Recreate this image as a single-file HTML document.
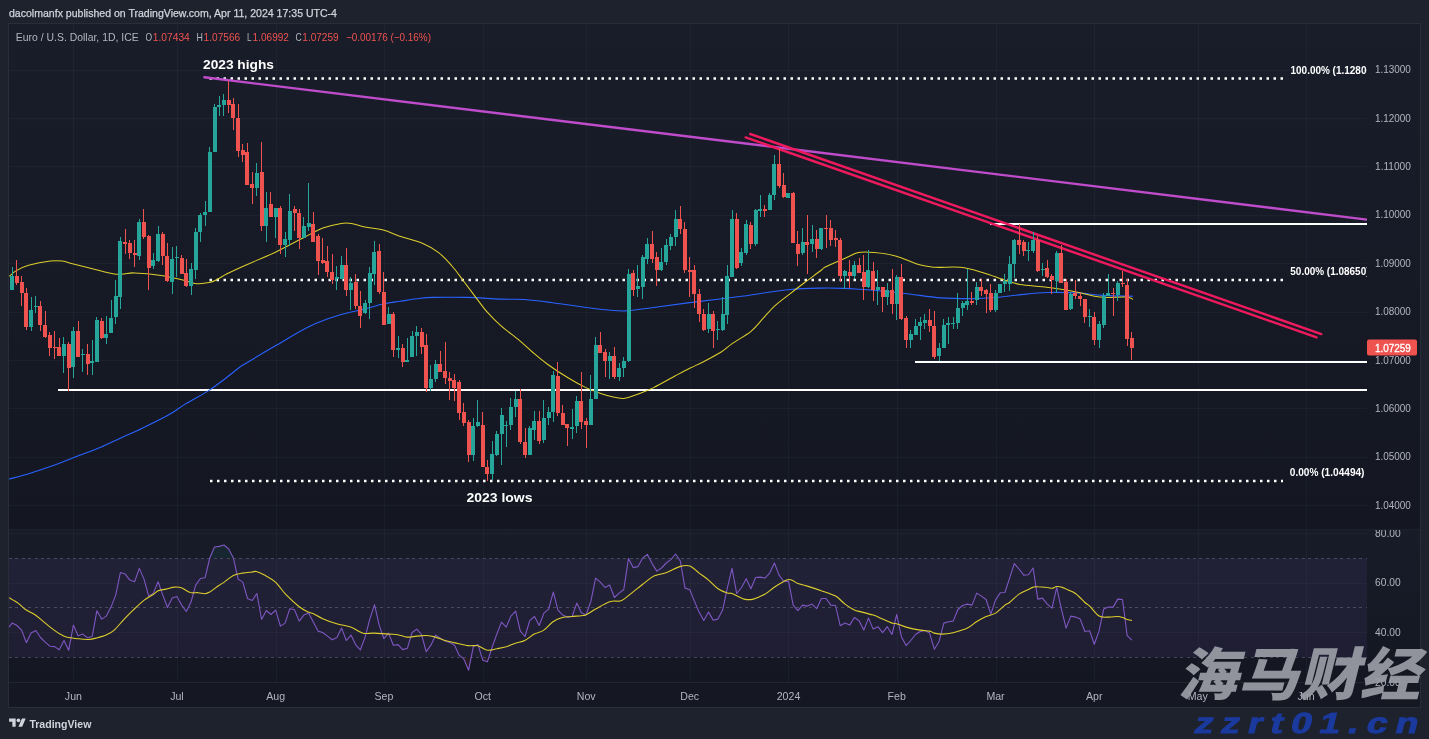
<!DOCTYPE html>
<html lang="en"><head><meta charset="utf-8"><title>EURUSD chart</title>
<style>
html,body{margin:0;padding:0;background:#1e222d;}
body{width:1429px;height:739px;overflow:hidden;position:relative;font-family:"Liberation Sans","Noto Sans CJK SC",sans-serif;}
svg{position:absolute;left:0;top:0;display:block}
text{font-family:"Liberation Sans","Noto Sans CJK SC",sans-serif}
.ax{font-size:10px;fill:#b2b5be}
.tm{font-size:10.6px;fill:#b2b5be;text-anchor:middle}
  .fib{font-size:10.8px;fill:#fff;font-weight:bold}
.lbl{font-size:13.4px;fill:#fff;font-weight:bold}
.g{stroke:#a0a8c8;stroke-opacity:0.05;stroke-width:1;shape-rendering:crispEdges}
</style></head><body>
<svg width="1429" height="739" viewBox="0 0 1429 739">
<rect x="0" y="0" width="1429" height="739" fill="#1e222d"/>
<rect x="8.5" y="23.5" width="1412" height="684" fill="#161a25" stroke="#292d3a" stroke-width="1" shape-rendering="crispEdges"/>
<defs><linearGradient id="g1" x1="0" y1="0" x2="0" y2="1"><stop offset="0" stop-color="#191d29"/><stop offset="1" stop-color="#141722"/></linearGradient><linearGradient id="g2" x1="0" y1="0" x2="0" y2="1"><stop offset="0" stop-color="#181c28"/><stop offset="1" stop-color="#141722"/></linearGradient></defs>
<rect x="9" y="24" width="1411" height="505" fill="url(#g1)"/><rect x="9" y="529" width="1411" height="154" fill="url(#g2)"/><rect x="9" y="683" width="1411" height="24" fill="#151823"/>
<defs><clipPath id="cp"><rect x="9" y="24" width="1358" height="505"/></clipPath><clipPath id="cr"><rect x="9" y="530" width="1358" height="152"/></clipPath><clipPath id="cob"><rect x="9" y="530" width="1358" height="28.4"/></clipPath><clipPath id="cos"><rect x="9" y="657.2" width="1358" height="25"/></clipPath><clipPath id="cax"><rect x="1367" y="530" width="54" height="200"/></clipPath></defs>
<g class="g">
<line x1="9" x2="1367" y1="70.5" y2="70.5"/>
<line x1="9" x2="1367" y1="118.5" y2="118.5"/>
<line x1="9" x2="1367" y1="166.5" y2="166.5"/>
<line x1="9" x2="1367" y1="215.5" y2="215.5"/>
<line x1="9" x2="1367" y1="263.5" y2="263.5"/>
<line x1="9" x2="1367" y1="312.5" y2="312.5"/>
<line x1="9" x2="1367" y1="360.5" y2="360.5"/>
<line x1="9" x2="1367" y1="408.5" y2="408.5"/>
<line x1="9" x2="1367" y1="457.5" y2="457.5"/>
<line x1="9" x2="1367" y1="505.5" y2="505.5"/>
<line x1="9" x2="1367" y1="533.5" y2="533.5"/>
<line x1="9" x2="1367" y1="583.5" y2="583.5"/>
<line x1="9" x2="1367" y1="632.5" y2="632.5"/>
<line x1="73.5" x2="73.5" y1="24" y2="682"/>
<line x1="177.5" x2="177.5" y1="24" y2="682"/>
<line x1="276.5" x2="276.5" y1="24" y2="682"/>
<line x1="384.5" x2="384.5" y1="24" y2="682"/>
<line x1="483.5" x2="483.5" y1="24" y2="682"/>
<line x1="586.5" x2="586.5" y1="24" y2="682"/>
<line x1="690.5" x2="690.5" y1="24" y2="682"/>
<line x1="788.5" x2="788.5" y1="24" y2="682"/>
<line x1="897.5" x2="897.5" y1="24" y2="682"/>
<line x1="996.5" x2="996.5" y1="24" y2="682"/>
<line x1="1094.5" x2="1094.5" y1="24" y2="682"/>
<line x1="1198.5" x2="1198.5" y1="24" y2="682"/>
<line x1="1306.5" x2="1306.5" y1="24" y2="682"/>
</g>
<rect x="9" y="529" width="1411" height="1" fill="#1c202c"/>
<line x1="9" x2="1420" y1="682.5" y2="682.5" stroke="#21252f" stroke-width="1" shape-rendering="crispEdges"/>
<rect x="9" y="558.4" width="1358" height="98.8" fill="#7e57c2" fill-opacity="0.10"/>
<line x1="9" x2="1367" y1="558.5" y2="558.5" stroke="#787b86" stroke-opacity="0.47" stroke-width="1" stroke-dasharray="3 3.4" shape-rendering="crispEdges"/>
<line x1="9" x2="1367" y1="607.5" y2="607.5" stroke="#787b86" stroke-opacity="0.47" stroke-width="1" stroke-dasharray="3 3.4" shape-rendering="crispEdges"/>
<line x1="9" x2="1367" y1="657.5" y2="657.5" stroke="#787b86" stroke-opacity="0.47" stroke-width="1" stroke-dasharray="3 3.4" shape-rendering="crispEdges"/>
<g clip-path="url(#cp)">
<g stroke="#fff" stroke-width="2" shape-rendering="crispEdges">
<line x1="58" x2="1367" y1="390" y2="390"/>
<line x1="915" x2="1367" y1="362" y2="362"/>
<line x1="990" x2="1367" y1="224" y2="224"/>
</g>
<line x1="209.5" x2="1283" y1="78.5" y2="78.5" stroke="#fff" stroke-width="2.5" stroke-dasharray="2.5 4.5"/>
<line x1="209.5" x2="1283" y1="280" y2="280" stroke="#fff" stroke-width="2.5" stroke-dasharray="2.5 4.5"/>
<line x1="210" x2="1283" y1="481" y2="481" stroke="#fff" stroke-width="2.5" stroke-dasharray="2.5 4.5"/>
<line x1="204.4" y1="77.3" x2="1367" y2="219.6" stroke="#bf4ccb" stroke-width="2.4" stroke-linecap="round"/>
<line x1="750.2" y1="134" x2="1321.3" y2="334.1" stroke="#ee1a5e" stroke-width="2.4" stroke-linecap="round"/>
<line x1="745.6" y1="137.4" x2="1316.6" y2="337.4" stroke="#ee1a5e" stroke-width="2.4" stroke-linecap="round"/>
<path fill="none" stroke="#2962ff" stroke-width="1.1" d="M9.2 479.1C12.7 478.1 22.5 475.6 30.2 473.2C37.9 470.8 47.3 467.7 55.4 464.8C63.5 461.9 71.3 458.5 78.9 455.6C86.5 452.7 93.8 450.1 100.8 447.2C107.8 444.2 113.9 441.1 120.9 437.9C127.9 434.7 135 431.7 142.8 427.9C150.7 424.1 161 419.2 168 415.3C175 411.4 178.1 408.5 184.8 404.4C191.5 400.3 201.9 395 208.3 390.9C214.7 386.8 218.1 384 223.4 380C228.7 376 236.4 369.7 240 367C243.6 364.3 238.8 367.5 244.7 364C250.6 360.5 264.6 352.1 275.4 345.8C286.2 339.6 298.9 331.5 309.3 326.5C319.7 321.5 328.7 318.5 337.9 315.6C347.1 312.7 357 310.9 364.7 308.9C372.4 306.9 378.1 305.1 384 303.8C389.9 302.5 394.5 302.1 400 301.3C405.5 300.5 411.2 299.5 416.8 298.8C422.4 298.1 425.2 297.6 433.6 297.4C442 297.2 456 297.1 467.2 297.4C478.4 297.7 491.3 298.8 500.8 299.1C510.3 299.5 515.9 298.9 524.3 299.5C532.7 300.1 541.1 301.2 551.2 302.5C561.3 303.8 574.4 305.9 584.7 307.2C595.1 308.5 606.6 309.9 613.3 310.5C620 311.1 620.5 311.1 625 310.9C629.5 310.7 635.2 309.8 640 309.2C644.8 308.6 645.3 308.6 653.6 307.5C661.9 306.4 675.7 304.4 689.7 302.6C703.7 300.8 721.2 298.9 737.6 296.8C754 294.7 774 291.2 788 289.8C802 288.4 812 288.3 821.5 288.1C831 287.9 838.6 288.2 845 288.4C851.4 288.6 855.2 289 860 289.3C864.8 289.6 865.7 289.6 873.6 290.3C881.5 291 896 292.4 907.2 293.7C918.4 295 929.6 297.1 940.8 297.9C952 298.7 965.6 298.6 974.4 298.6C983.2 298.6 986.2 298.3 993.6 297.7C1001 297.1 1009.8 295.8 1018.8 294.9C1027.8 294 1037.5 292.8 1047.3 292.5C1057.1 292.2 1068.3 292.4 1077.6 292.9C1086.8 293.4 1093.6 294.8 1102.8 295.4C1112 295.9 1128 296.1 1133 296.2"/>
<path fill="none" stroke="#ddce2c" stroke-width="1.05" d="M9.2 276.3C10.5 275.3 13.6 272.2 16.8 270.4C20 268.6 23 266.9 28.6 265.3C34.2 263.8 44.8 261.8 50.4 261.1C56 260.4 58.3 260.6 62.1 261.1C65.9 261.6 68.4 262.7 73.4 264C78.5 265.3 85.3 267 92.4 268.7C99.5 270.4 108.9 273.5 115.9 274.2C122.9 274.9 126.9 272.7 134.4 272.9C141.9 273.1 152.8 274.1 161.2 275.4C169.6 276.7 179.2 279.1 184.8 280.5C190.4 281.9 190.8 283.1 194.8 283.5C198.9 283.9 205.2 283.4 209.1 282.6C213 281.8 215.3 280.3 218.3 278.8C221.3 277.3 222.5 276.1 227 273.8C231.5 271.5 237.4 268.8 245.5 265.2C253.6 261.6 265.6 256.8 275.4 252.2C285.2 247.5 296.4 241.3 304.3 237.3C312.2 233.3 316.7 230.4 322.8 228.1C328.9 225.8 336.4 224.2 341.2 223.4C345.9 222.6 347.4 222.8 351.3 223.4C355.2 224 359.3 225.8 364.8 226.9C370.3 228.1 378.5 228.8 384.1 230.3C389.7 231.8 392 233.6 398.3 235.7C404.6 237.8 415.1 240.2 421.8 243C428.5 245.8 433.6 248.8 438.6 252.6C443.6 256.4 447.9 261.4 452 266C456.1 270.6 459.1 275.1 463 280.3C466.9 285.5 471.6 291.8 475.6 297.1C479.7 302.4 483.1 307.4 487.3 312.2C491.5 317 495.6 321.1 500.8 325.7C506 330.3 513 335.1 518.5 339.6C524 344.2 528.7 348.9 533.5 353C538.3 357.1 541.8 360.1 547.5 364.2C553.2 368.3 561.5 373.9 568 377.8C574.5 381.8 580.8 385.2 586.4 387.9C592 390.5 597 392.2 601.5 393.7C606 395.2 609.6 396.3 613.3 397.1C616.9 397.9 620.3 398.5 623.4 398.4C626.5 398.3 629.2 397.1 631.8 396.3C634.4 395.5 635.4 395.2 639 393.8C642.6 392.4 647.5 390.6 653.6 387.6C659.7 384.6 669.4 379 675.4 375.8C681.4 372.6 684.9 370.7 689.7 368.3C694.5 365.9 698.8 364.2 704 361.5C709.2 358.8 716 355.3 720.8 352.3C725.5 349.3 727.5 346.9 732.5 343.4C737.5 339.9 746 335.4 751 331.3C756 327.2 758.9 322.9 762.8 318.7C766.7 314.5 770.3 310 774.5 306.1C778.7 302.2 783 299.2 788 295.3C793 291.4 799.1 286.7 804.7 282.5C810.3 278.3 818.1 272.6 821.5 270C824.9 267.4 821.2 269 824.9 267.2C828.5 265.4 837.8 261.4 843.4 259C849 256.6 853.5 253.7 858.5 252.6C863.5 251.5 867.5 251.9 873.6 252.5C879.8 253.1 887.6 253.8 895.4 255.9C903.2 258 913.9 263.2 920.6 265.1C927.3 267 929.1 266.9 935.7 267.3C942.4 267.7 952.5 266.4 960.5 267.3C968.5 268.2 976.9 270.9 984 272.9C991.1 274.9 997 277.6 1003 279.5C1009 281.4 1013.4 283.3 1020 284.5C1026.6 285.7 1035.7 285.9 1042.5 286.7C1049.3 287.5 1054.8 288.2 1061 289.2C1067.2 290.2 1074.4 291.6 1080 292.8C1085.6 294 1090.1 295.4 1094.4 296.2C1098.8 297 1100.8 297.2 1106.1 297.4C1111.4 297.5 1121.8 296.8 1126.3 297.1C1130.8 297.4 1131.9 299 1133 299.4"/>
<g fill="#26a69a" shape-rendering="crispEdges">
<rect x="12" y="267" width="1" height="23"/><rect x="10" y="276" width="4" height="14"/>
<rect x="31" y="297" width="1" height="34"/><rect x="29" y="310" width="4" height="17"/>
<rect x="35" y="296" width="1" height="17"/><rect x="34" y="306" width="4" height="1"/>
<rect x="63" y="337" width="1" height="36"/><rect x="62" y="344" width="4" height="12"/>
<rect x="73" y="327" width="1" height="51"/><rect x="71" y="331" width="4" height="36"/>
<rect x="82" y="349" width="1" height="23"/><rect x="81" y="354" width="4" height="1"/>
<rect x="92" y="340" width="1" height="35"/><rect x="90" y="361" width="4" height="2"/>
<rect x="96" y="317" width="1" height="45"/><rect x="95" y="320" width="4" height="42"/>
<rect x="106" y="316" width="1" height="28"/><rect x="104" y="334" width="4" height="4"/>
<rect x="111" y="300" width="1" height="33"/><rect x="109" y="318" width="4" height="15"/>
<rect x="115" y="280" width="1" height="44"/><rect x="114" y="296" width="4" height="21"/>
<rect x="120" y="237" width="1" height="72"/><rect x="118" y="241" width="4" height="56"/>
<rect x="139" y="219" width="1" height="41"/><rect x="137" y="222" width="4" height="34"/>
<rect x="153" y="253" width="1" height="16"/><rect x="151" y="260" width="4" height="6"/>
<rect x="158" y="226" width="1" height="36"/><rect x="156" y="234" width="4" height="27"/>
<rect x="172" y="247" width="1" height="47"/><rect x="170" y="259" width="4" height="23"/>
<rect x="176" y="246" width="1" height="31"/><rect x="175" y="257" width="4" height="1"/>
<rect x="191" y="263" width="1" height="32"/><rect x="189" y="269" width="4" height="17"/>
<rect x="195" y="228" width="1" height="51"/><rect x="194" y="232" width="4" height="38"/>
<rect x="200" y="213" width="1" height="29"/><rect x="198" y="215" width="4" height="17"/>
<rect x="205" y="201" width="1" height="25"/><rect x="203" y="212" width="4" height="3"/>
<rect x="209" y="147" width="1" height="65"/><rect x="208" y="152" width="4" height="60"/>
<rect x="214" y="104" width="1" height="48"/><rect x="213" y="107" width="4" height="45"/>
<rect x="219" y="96" width="1" height="20"/><rect x="217" y="105" width="4" height="2"/>
<rect x="223" y="94" width="1" height="22"/><rect x="222" y="100" width="4" height="5"/>
<rect x="256" y="163" width="1" height="33"/><rect x="255" y="173" width="4" height="15"/>
<rect x="266" y="192" width="1" height="50"/><rect x="264" y="208" width="4" height="18"/>
<rect x="275" y="208" width="1" height="30"/><rect x="274" y="208" width="4" height="9"/>
<rect x="285" y="232" width="1" height="25"/><rect x="283" y="239" width="4" height="6"/>
<rect x="289" y="194" width="1" height="52"/><rect x="288" y="211" width="4" height="29"/>
<rect x="303" y="217" width="1" height="21"/><rect x="302" y="226" width="4" height="12"/>
<rect x="308" y="183" width="1" height="48"/><rect x="307" y="223" width="4" height="4"/>
<rect x="336" y="266" width="1" height="24"/><rect x="335" y="277" width="4" height="2"/>
<rect x="341" y="256" width="1" height="23"/><rect x="340" y="265" width="4" height="14"/>
<rect x="350" y="277" width="1" height="33"/><rect x="349" y="283" width="4" height="7"/>
<rect x="365" y="300" width="1" height="14"/><rect x="363" y="303" width="4" height="10"/>
<rect x="369" y="267" width="1" height="52"/><rect x="368" y="273" width="4" height="30"/>
<rect x="374" y="241" width="1" height="44"/><rect x="372" y="252" width="4" height="22"/>
<rect x="388" y="307" width="1" height="17"/><rect x="387" y="314" width="4" height="10"/>
<rect x="398" y="336" width="1" height="22"/><rect x="396" y="348" width="4" height="2"/>
<rect x="407" y="338" width="1" height="24"/><rect x="405" y="360" width="4" height="2"/>
<rect x="412" y="331" width="1" height="26"/><rect x="410" y="336" width="4" height="21"/>
<rect x="416" y="326" width="1" height="30"/><rect x="415" y="332" width="4" height="4"/>
<rect x="430" y="365" width="1" height="26"/><rect x="429" y="379" width="4" height="9"/>
<rect x="435" y="360" width="1" height="22"/><rect x="434" y="364" width="4" height="15"/>
<rect x="473" y="418" width="1" height="43"/><rect x="471" y="426" width="4" height="29"/>
<rect x="477" y="400" width="1" height="27"/><rect x="476" y="422" width="4" height="4"/>
<rect x="492" y="441" width="1" height="39"/><rect x="490" y="454" width="4" height="20"/>
<rect x="496" y="431" width="1" height="25"/><rect x="495" y="434" width="4" height="21"/>
<rect x="501" y="408" width="1" height="57"/><rect x="500" y="415" width="4" height="19"/>
<rect x="506" y="421" width="1" height="26"/><rect x="504" y="425" width="4" height="1"/>
<rect x="510" y="398" width="1" height="32"/><rect x="509" y="407" width="4" height="18"/>
<rect x="515" y="391" width="1" height="26"/><rect x="514" y="399" width="4" height="8"/>
<rect x="529" y="426" width="1" height="29"/><rect x="528" y="428" width="4" height="27"/>
<rect x="534" y="411" width="1" height="29"/><rect x="532" y="421" width="4" height="9"/>
<rect x="543" y="400" width="1" height="43"/><rect x="542" y="418" width="4" height="22"/>
<rect x="548" y="407" width="1" height="18"/><rect x="547" y="412" width="4" height="6"/>
<rect x="553" y="371" width="1" height="51"/><rect x="551" y="375" width="4" height="37"/>
<rect x="572" y="409" width="1" height="30"/><rect x="570" y="427" width="4" height="2"/>
<rect x="576" y="396" width="1" height="37"/><rect x="575" y="401" width="4" height="25"/>
<rect x="590" y="375" width="1" height="50"/><rect x="589" y="399" width="4" height="26"/>
<rect x="595" y="337" width="1" height="62"/><rect x="594" y="345" width="4" height="54"/>
<rect x="609" y="352" width="1" height="27"/><rect x="608" y="356" width="4" height="5"/>
<rect x="619" y="363" width="1" height="18"/><rect x="617" y="368" width="4" height="9"/>
<rect x="623" y="357" width="1" height="20"/><rect x="622" y="361" width="4" height="7"/>
<rect x="628" y="269" width="1" height="93"/><rect x="627" y="274" width="4" height="87"/>
<rect x="637" y="265" width="1" height="32"/><rect x="636" y="286" width="4" height="3"/>
<rect x="642" y="255" width="1" height="44"/><rect x="641" y="257" width="4" height="30"/>
<rect x="647" y="238" width="1" height="26"/><rect x="645" y="244" width="4" height="15"/>
<rect x="661" y="248" width="1" height="23"/><rect x="659" y="262" width="4" height="8"/>
<rect x="666" y="239" width="1" height="26"/><rect x="664" y="245" width="4" height="17"/>
<rect x="670" y="234" width="1" height="16"/><rect x="669" y="237" width="4" height="9"/>
<rect x="675" y="210" width="1" height="36"/><rect x="674" y="219" width="4" height="18"/>
<rect x="708" y="303" width="1" height="30"/><rect x="707" y="314" width="4" height="15"/>
<rect x="717" y="321" width="1" height="19"/><rect x="716" y="329" width="4" height="1"/>
<rect x="722" y="297" width="1" height="34"/><rect x="721" y="314" width="4" height="16"/>
<rect x="727" y="265" width="1" height="59"/><rect x="725" y="276" width="4" height="39"/>
<rect x="732" y="210" width="1" height="67"/><rect x="730" y="219" width="4" height="58"/>
<rect x="741" y="248" width="1" height="18"/><rect x="739" y="252" width="4" height="11"/>
<rect x="746" y="220" width="1" height="35"/><rect x="744" y="224" width="4" height="29"/>
<rect x="755" y="209" width="1" height="37"/><rect x="754" y="210" width="4" height="34"/>
<rect x="760" y="195" width="1" height="22"/><rect x="758" y="209" width="4" height="2"/>
<rect x="769" y="193" width="1" height="17"/><rect x="768" y="195" width="4" height="15"/>
<rect x="774" y="155" width="1" height="45"/><rect x="772" y="164" width="4" height="31"/>
<rect x="788" y="193" width="1" height="5"/><rect x="786" y="193" width="4" height="5"/>
<rect x="802" y="228" width="1" height="27"/><rect x="801" y="242" width="4" height="11"/>
<rect x="812" y="225" width="1" height="27"/><rect x="810" y="239" width="4" height="5"/>
<rect x="821" y="228" width="1" height="22"/><rect x="819" y="228" width="4" height="21"/>
<rect x="844" y="270" width="1" height="19"/><rect x="843" y="271" width="4" height="5"/>
<rect x="854" y="261" width="1" height="18"/><rect x="852" y="265" width="4" height="11"/>
<rect x="868" y="250" width="1" height="38"/><rect x="866" y="270" width="4" height="17"/>
<rect x="877" y="270" width="1" height="35"/><rect x="876" y="287" width="4" height="3"/>
<rect x="887" y="283" width="1" height="22"/><rect x="885" y="290" width="4" height="7"/>
<rect x="896" y="275" width="1" height="45"/><rect x="895" y="277" width="4" height="27"/>
<rect x="910" y="330" width="1" height="18"/><rect x="909" y="334" width="4" height="6"/>
<rect x="915" y="319" width="1" height="16"/><rect x="914" y="326" width="4" height="9"/>
<rect x="920" y="317" width="1" height="23"/><rect x="918" y="322" width="4" height="4"/>
<rect x="924" y="314" width="1" height="15"/><rect x="923" y="320" width="4" height="3"/>
<rect x="939" y="343" width="1" height="18"/><rect x="937" y="348" width="4" height="8"/>
<rect x="943" y="319" width="1" height="29"/><rect x="942" y="325" width="4" height="23"/>
<rect x="948" y="317" width="1" height="27"/><rect x="946" y="323" width="4" height="2"/>
<rect x="953" y="317" width="1" height="12"/><rect x="951" y="323" width="4" height="1"/>
<rect x="957" y="293" width="1" height="36"/><rect x="956" y="308" width="4" height="15"/>
<rect x="962" y="301" width="1" height="15"/><rect x="961" y="303" width="4" height="5"/>
<rect x="967" y="269" width="1" height="41"/><rect x="965" y="301" width="4" height="4"/>
<rect x="976" y="282" width="1" height="23"/><rect x="975" y="287" width="4" height="13"/>
<rect x="995" y="290" width="1" height="22"/><rect x="994" y="293" width="4" height="17"/>
<rect x="1000" y="284" width="1" height="9"/><rect x="998" y="284" width="4" height="9"/>
<rect x="1004" y="274" width="1" height="18"/><rect x="1003" y="281" width="4" height="3"/>
<rect x="1009" y="256" width="1" height="35"/><rect x="1008" y="264" width="4" height="20"/>
<rect x="1014" y="239" width="1" height="39"/><rect x="1012" y="240" width="4" height="24"/>
<rect x="1028" y="242" width="1" height="19"/><rect x="1026" y="250" width="4" height="1"/>
<rect x="1033" y="232" width="1" height="21"/><rect x="1031" y="240" width="4" height="11"/>
<rect x="1042" y="263" width="1" height="13"/><rect x="1041" y="269" width="4" height="1"/>
<rect x="1056" y="251" width="1" height="42"/><rect x="1055" y="253" width="4" height="28"/>
<rect x="1070" y="292" width="1" height="18"/><rect x="1069" y="294" width="4" height="15"/>
<rect x="1089" y="309" width="1" height="18"/><rect x="1088" y="316" width="4" height="1"/>
<rect x="1099" y="321" width="1" height="27"/><rect x="1097" y="324" width="4" height="16"/>
<rect x="1103" y="293" width="1" height="35"/><rect x="1102" y="296" width="4" height="29"/>
<rect x="1108" y="274" width="1" height="22"/><rect x="1106" y="293" width="4" height="3"/>
<rect x="1117" y="281" width="1" height="20"/><rect x="1116" y="283" width="4" height="12"/>
</g>
<g fill="#ef5350" shape-rendering="crispEdges">
<rect x="16" y="260" width="1" height="25"/><rect x="15" y="276" width="4" height="7"/>
<rect x="21" y="276" width="1" height="30"/><rect x="20" y="282" width="4" height="11"/>
<rect x="26" y="288" width="1" height="42"/><rect x="24" y="293" width="4" height="34"/>
<rect x="40" y="301" width="1" height="30"/><rect x="38" y="306" width="4" height="19"/>
<rect x="45" y="311" width="1" height="27"/><rect x="43" y="325" width="4" height="12"/>
<rect x="49" y="332" width="1" height="24"/><rect x="48" y="335" width="4" height="13"/>
<rect x="54" y="331" width="1" height="28"/><rect x="53" y="347" width="4" height="1"/>
<rect x="59" y="338" width="1" height="18"/><rect x="57" y="347" width="4" height="9"/>
<rect x="68" y="342" width="1" height="49"/><rect x="67" y="344" width="4" height="24"/>
<rect x="78" y="321" width="1" height="36"/><rect x="76" y="331" width="4" height="26"/>
<rect x="87" y="344" width="1" height="31"/><rect x="86" y="354" width="4" height="10"/>
<rect x="101" y="318" width="1" height="21"/><rect x="100" y="321" width="4" height="17"/>
<rect x="125" y="229" width="1" height="25"/><rect x="123" y="242" width="4" height="2"/>
<rect x="129" y="240" width="1" height="19"/><rect x="128" y="243" width="4" height="10"/>
<rect x="134" y="240" width="1" height="27"/><rect x="133" y="253" width="4" height="2"/>
<rect x="143" y="209" width="1" height="30"/><rect x="142" y="222" width="4" height="15"/>
<rect x="148" y="235" width="1" height="55"/><rect x="147" y="236" width="4" height="32"/>
<rect x="162" y="232" width="1" height="33"/><rect x="161" y="234" width="4" height="22"/>
<rect x="167" y="243" width="1" height="39"/><rect x="165" y="256" width="4" height="25"/>
<rect x="181" y="255" width="1" height="19"/><rect x="180" y="258" width="4" height="16"/>
<rect x="186" y="259" width="1" height="28"/><rect x="184" y="273" width="4" height="13"/>
<rect x="228" y="81" width="1" height="32"/><rect x="227" y="100" width="4" height="5"/>
<rect x="233" y="98" width="1" height="32"/><rect x="231" y="104" width="4" height="14"/>
<rect x="238" y="104" width="1" height="53"/><rect x="236" y="118" width="4" height="33"/>
<rect x="242" y="144" width="1" height="18"/><rect x="241" y="150" width="4" height="5"/>
<rect x="247" y="143" width="1" height="42"/><rect x="245" y="152" width="4" height="33"/>
<rect x="252" y="172" width="1" height="32"/><rect x="250" y="184" width="4" height="4"/>
<rect x="261" y="142" width="1" height="89"/><rect x="260" y="172" width="4" height="54"/>
<rect x="270" y="192" width="1" height="25"/><rect x="269" y="204" width="4" height="13"/>
<rect x="280" y="206" width="1" height="48"/><rect x="278" y="208" width="4" height="37"/>
<rect x="294" y="206" width="1" height="25"/><rect x="293" y="209" width="4" height="4"/>
<rect x="299" y="209" width="1" height="40"/><rect x="297" y="213" width="4" height="25"/>
<rect x="313" y="212" width="1" height="30"/><rect x="311" y="224" width="4" height="18"/>
<rect x="318" y="234" width="1" height="41"/><rect x="316" y="236" width="4" height="25"/>
<rect x="322" y="238" width="1" height="26"/><rect x="321" y="260" width="4" height="3"/>
<rect x="327" y="246" width="1" height="31"/><rect x="325" y="261" width="4" height="11"/>
<rect x="332" y="254" width="1" height="30"/><rect x="330" y="272" width="4" height="8"/>
<rect x="346" y="248" width="1" height="48"/><rect x="344" y="265" width="4" height="25"/>
<rect x="355" y="274" width="1" height="35"/><rect x="354" y="282" width="4" height="24"/>
<rect x="360" y="291" width="1" height="37"/><rect x="358" y="306" width="4" height="10"/>
<rect x="379" y="244" width="1" height="50"/><rect x="377" y="251" width="4" height="41"/>
<rect x="383" y="272" width="1" height="53"/><rect x="382" y="292" width="4" height="33"/>
<rect x="393" y="312" width="1" height="45"/><rect x="391" y="314" width="4" height="36"/>
<rect x="402" y="344" width="1" height="23"/><rect x="401" y="348" width="4" height="14"/>
<rect x="421" y="328" width="1" height="26"/><rect x="420" y="332" width="4" height="15"/>
<rect x="426" y="334" width="1" height="58"/><rect x="424" y="345" width="4" height="43"/>
<rect x="440" y="351" width="1" height="21"/><rect x="438" y="364" width="4" height="8"/>
<rect x="445" y="342" width="1" height="42"/><rect x="443" y="371" width="4" height="7"/>
<rect x="449" y="372" width="1" height="28"/><rect x="448" y="378" width="4" height="3"/>
<rect x="454" y="374" width="1" height="27"/><rect x="452" y="380" width="4" height="8"/>
<rect x="459" y="380" width="1" height="40"/><rect x="457" y="382" width="4" height="31"/>
<rect x="463" y="403" width="1" height="23"/><rect x="462" y="412" width="4" height="11"/>
<rect x="468" y="420" width="1" height="42"/><rect x="467" y="422" width="4" height="33"/>
<rect x="482" y="412" width="1" height="55"/><rect x="481" y="425" width="4" height="42"/>
<rect x="487" y="460" width="1" height="21"/><rect x="485" y="467" width="4" height="7"/>
<rect x="520" y="389" width="1" height="55"/><rect x="518" y="399" width="4" height="43"/>
<rect x="525" y="428" width="1" height="30"/><rect x="523" y="442" width="4" height="13"/>
<rect x="539" y="411" width="1" height="33"/><rect x="537" y="421" width="4" height="20"/>
<rect x="557" y="362" width="1" height="54"/><rect x="556" y="376" width="4" height="37"/>
<rect x="562" y="405" width="1" height="20"/><rect x="561" y="413" width="4" height="12"/>
<rect x="567" y="424" width="1" height="22"/><rect x="565" y="424" width="4" height="4"/>
<rect x="581" y="372" width="1" height="57"/><rect x="579" y="401" width="4" height="21"/>
<rect x="586" y="418" width="1" height="30"/><rect x="584" y="421" width="4" height="4"/>
<rect x="600" y="332" width="1" height="21"/><rect x="598" y="345" width="4" height="8"/>
<rect x="605" y="349" width="1" height="28"/><rect x="603" y="352" width="4" height="9"/>
<rect x="614" y="347" width="1" height="32"/><rect x="612" y="356" width="4" height="21"/>
<rect x="633" y="270" width="1" height="26"/><rect x="631" y="273" width="4" height="17"/>
<rect x="652" y="231" width="1" height="32"/><rect x="650" y="244" width="4" height="15"/>
<rect x="656" y="252" width="1" height="34"/><rect x="655" y="257" width="4" height="13"/>
<rect x="680" y="206" width="1" height="28"/><rect x="678" y="219" width="4" height="10"/>
<rect x="684" y="222" width="1" height="51"/><rect x="683" y="229" width="4" height="41"/>
<rect x="689" y="257" width="1" height="40"/><rect x="688" y="270" width="4" height="2"/>
<rect x="694" y="265" width="1" height="43"/><rect x="692" y="270" width="4" height="24"/>
<rect x="699" y="289" width="1" height="33"/><rect x="697" y="294" width="4" height="20"/>
<rect x="703" y="309" width="1" height="22"/><rect x="702" y="314" width="4" height="16"/>
<rect x="713" y="311" width="1" height="37"/><rect x="711" y="314" width="4" height="17"/>
<rect x="736" y="213" width="1" height="56"/><rect x="735" y="219" width="4" height="49"/>
<rect x="750" y="222" width="1" height="27"/><rect x="749" y="225" width="4" height="19"/>
<rect x="764" y="205" width="1" height="12"/><rect x="763" y="209" width="4" height="2"/>
<rect x="779" y="148" width="1" height="40"/><rect x="777" y="164" width="4" height="22"/>
<rect x="783" y="173" width="1" height="25"/><rect x="782" y="185" width="4" height="12"/>
<rect x="793" y="192" width="1" height="51"/><rect x="791" y="193" width="4" height="50"/>
<rect x="797" y="231" width="1" height="35"/><rect x="796" y="244" width="4" height="10"/>
<rect x="807" y="215" width="1" height="59"/><rect x="805" y="242" width="4" height="3"/>
<rect x="816" y="230" width="1" height="28"/><rect x="815" y="239" width="4" height="10"/>
<rect x="826" y="215" width="1" height="33"/><rect x="824" y="228" width="4" height="1"/>
<rect x="830" y="220" width="1" height="26"/><rect x="829" y="228" width="4" height="12"/>
<rect x="835" y="230" width="1" height="17"/><rect x="834" y="238" width="4" height="2"/>
<rect x="840" y="238" width="1" height="44"/><rect x="838" y="240" width="4" height="36"/>
<rect x="849" y="260" width="1" height="28"/><rect x="848" y="272" width="4" height="4"/>
<rect x="859" y="258" width="1" height="15"/><rect x="857" y="265" width="4" height="8"/>
<rect x="863" y="255" width="1" height="45"/><rect x="862" y="272" width="4" height="15"/>
<rect x="873" y="262" width="1" height="39"/><rect x="871" y="271" width="4" height="19"/>
<rect x="882" y="287" width="1" height="25"/><rect x="881" y="287" width="4" height="10"/>
<rect x="892" y="269" width="1" height="45"/><rect x="890" y="290" width="4" height="14"/>
<rect x="901" y="264" width="1" height="56"/><rect x="899" y="277" width="4" height="42"/>
<rect x="906" y="316" width="1" height="32"/><rect x="904" y="318" width="4" height="22"/>
<rect x="929" y="309" width="1" height="23"/><rect x="928" y="320" width="4" height="6"/>
<rect x="934" y="311" width="1" height="48"/><rect x="932" y="326" width="4" height="31"/>
<rect x="971" y="292" width="1" height="13"/><rect x="970" y="301" width="4" height="2"/>
<rect x="981" y="279" width="1" height="17"/><rect x="979" y="287" width="4" height="4"/>
<rect x="986" y="289" width="1" height="24"/><rect x="984" y="290" width="4" height="4"/>
<rect x="990" y="284" width="1" height="28"/><rect x="989" y="293" width="4" height="17"/>
<rect x="1019" y="224" width="1" height="30"/><rect x="1017" y="240" width="4" height="5"/>
<rect x="1023" y="240" width="1" height="16"/><rect x="1022" y="242" width="4" height="9"/>
<rect x="1037" y="236" width="1" height="36"/><rect x="1036" y="240" width="4" height="31"/>
<rect x="1047" y="260" width="1" height="18"/><rect x="1045" y="268" width="4" height="9"/>
<rect x="1051" y="274" width="1" height="20"/><rect x="1050" y="276" width="4" height="4"/>
<rect x="1061" y="245" width="1" height="38"/><rect x="1059" y="253" width="4" height="30"/>
<rect x="1066" y="279" width="1" height="31"/><rect x="1064" y="282" width="4" height="28"/>
<rect x="1075" y="280" width="1" height="19"/><rect x="1073" y="293" width="4" height="3"/>
<rect x="1080" y="293" width="1" height="13"/><rect x="1078" y="296" width="4" height="3"/>
<rect x="1084" y="299" width="1" height="24"/><rect x="1083" y="299" width="4" height="18"/>
<rect x="1094" y="312" width="1" height="33"/><rect x="1092" y="317" width="4" height="23"/>
<rect x="1113" y="288" width="1" height="28"/><rect x="1111" y="293" width="4" height="1"/>
<rect x="1122" y="271" width="1" height="16"/><rect x="1121" y="283" width="4" height="1"/>
<rect x="1127" y="279" width="1" height="67"/><rect x="1125" y="285" width="4" height="54"/>
<rect x="1131" y="332" width="1" height="28"/><rect x="1130" y="338" width="4" height="10"/>
</g>
<text class="lbl" x="203" y="69.3" textLength="71" lengthAdjust="spacingAndGlyphs">2023 highs</text>
<text class="lbl" x="466.5" y="501.5" textLength="66" lengthAdjust="spacingAndGlyphs">2023 lows</text>
<text class="fib" x="1290.5" y="73.5" textLength="84.8" lengthAdjust="spacingAndGlyphs">100.00% (1.12806)</text>
<text class="fib" x="1290.3" y="274.6" textLength="79.2" lengthAdjust="spacingAndGlyphs">50.00% (1.08650)</text>
<text class="fib" x="1289.8" y="475.8" textLength="74.7" lengthAdjust="spacingAndGlyphs">0.00% (1.04494)</text>
</g>
<polygon clip-path="url(#cob)" fill="#26a69a" fill-opacity="0.09" points="9,558.4 9,627.1 12.2,623.1 16.9,625.5 21.6,630.1 26.4,642.8 31.1,633.1 35.8,630.5 40.5,637.5 45.2,642.2 49.9,646.2 54.6,646.6 59.3,649.8 64,640.5 68.7,650.2 73.4,625.1 78.1,635.7 82.8,634.1 87.5,637.7 92.2,636.5 96.9,610.7 101.6,619.1 106.3,616.1 111,607.1 115.7,595.1 120.4,572.5 125.2,574.1 129.9,580.1 134.6,581.7 139.3,568.4 144,579.1 148.7,596.1 153.4,593.1 158.1,581.7 162.8,595.1 167.5,607.5 172.2,598.1 176.9,596.5 181.6,605.1 186.3,611.5 191,602.1 195.7,585.1 200.4,578.5 205.1,577.7 209.8,558 214.5,547 219.2,546.4 223.9,545 228.7,549 233.4,558 238.1,579.1 242.8,582.1 247.5,598.5 252.2,600.5 256.9,593.5 261.6,619.5 266.3,610.5 271,614.5 275.7,610.1 280.4,626.1 285.1,623.1 289.8,608.7 294.5,609.7 299.2,621.1 303.9,615.1 308.6,613.1 313.3,622.1 318,631.1 322.7,632.5 327.4,636.1 332.2,639.7 336.9,637.5 341.6,628.1 346.3,640.5 351,635.1 355.7,644.8 360.4,649.8 365.1,637.1 369.8,619.1 374.5,604.7 379.2,625.1 383.9,638.7 388.6,633.1 393.3,645.2 398,644.6 402.7,649.6 407.4,648.2 412.1,632.5 416.8,629.1 421.5,634.5 426.2,651.6 430.9,645.2 435.7,635.1 440.4,638.1 445.1,641.1 449.8,642.6 454.5,645.2 459.2,655.2 463.9,659.2 468.6,670.2 473.3,646.8 478,644.6 482.7,660.2 487.4,661.8 492.1,647.2 496.8,634.1 501.5,622.1 506.2,627.1 510.9,616.1 515.6,611.1 520.3,631.1 525,636.5 529.7,620.7 534.5,616.5 539.2,625.5 543.9,613.1 548.6,609.1 553.3,592.1 558,610.1 562.7,615.1 567.4,617.1 572.1,616.5 576.8,603.1 581.5,613.1 586.2,614.7 590.9,601.1 595.6,578.1 600.3,582.1 605,587.5 609.7,585.1 614.4,597.5 619.1,593.1 623.8,589.5 628.5,558.4 633.2,567.6 638,566.6 642.7,558 647.4,554.4 652.1,563.6 656.8,571.1 661.5,568 666.2,563 670.9,559.6 675.6,554 680.3,561 685,588.1 689.7,589.5 694.4,601.1 699.1,612.1 703.8,620.5 708.5,612.1 713.2,620.1 717.9,619.1 722.6,610.1 727.3,588.1 732,568.4 736.7,593.5 741.5,587.5 746.2,578.7 750.9,588.7 755.6,577.5 760.3,577.1 765,578.1 769.7,573.1 774.4,563 779.1,575.1 783.8,581.5 788.5,581.1 793.2,605.1 797.9,610.7 802.6,605.1 807.3,606.1 812,604.1 816.7,608.7 821.4,598.5 826.1,598.5 830.8,605.1 835.5,605.5 840.2,625.7 845,623.1 849.7,625.1 854.4,617.5 859.1,620.7 863.8,630.1 868.5,618.1 873.2,629.1 877.9,626.7 882.6,632.7 887.3,626.7 892,634.5 896.7,614.5 901.4,636.7 906.1,645.6 910.8,640.5 915.5,634.5 920.2,631.5 924.9,630.5 929.6,633.1 934.3,649.2 939,641.7 943.8,623.1 948.5,621.7 953.2,621.1 957.9,609.5 962.6,605.5 967.3,604.1 972,605.1 976.7,593.1 981.4,596.1 986.1,599.5 990.8,614.1 995.5,600.1 1000.2,592.7 1004.9,592.5 1009.6,578.1 1014.3,563.6 1019,569 1023.7,575.1 1028.4,574.7 1033.1,568 1037.8,599.1 1042.5,598.1 1047.3,604.1 1052,608.1 1056.7,587.5 1061.4,609.1 1066.1,628.1 1070.8,616.1 1075.5,617.1 1080.2,619.1 1084.9,631.5 1089.6,630.7 1094.3,644.2 1099,631.1 1103.7,609.1 1108.4,607.1 1113.1,607.1 1117.8,599.1 1122.5,599.5 1127.2,635.7 1131.9,640.1 1367,558.4"/>
<polygon clip-path="url(#cos)" fill="#ef5350" fill-opacity="0.09" points="9,657.2 9,627.1 12.2,623.1 16.9,625.5 21.6,630.1 26.4,642.8 31.1,633.1 35.8,630.5 40.5,637.5 45.2,642.2 49.9,646.2 54.6,646.6 59.3,649.8 64,640.5 68.7,650.2 73.4,625.1 78.1,635.7 82.8,634.1 87.5,637.7 92.2,636.5 96.9,610.7 101.6,619.1 106.3,616.1 111,607.1 115.7,595.1 120.4,572.5 125.2,574.1 129.9,580.1 134.6,581.7 139.3,568.4 144,579.1 148.7,596.1 153.4,593.1 158.1,581.7 162.8,595.1 167.5,607.5 172.2,598.1 176.9,596.5 181.6,605.1 186.3,611.5 191,602.1 195.7,585.1 200.4,578.5 205.1,577.7 209.8,558 214.5,547 219.2,546.4 223.9,545 228.7,549 233.4,558 238.1,579.1 242.8,582.1 247.5,598.5 252.2,600.5 256.9,593.5 261.6,619.5 266.3,610.5 271,614.5 275.7,610.1 280.4,626.1 285.1,623.1 289.8,608.7 294.5,609.7 299.2,621.1 303.9,615.1 308.6,613.1 313.3,622.1 318,631.1 322.7,632.5 327.4,636.1 332.2,639.7 336.9,637.5 341.6,628.1 346.3,640.5 351,635.1 355.7,644.8 360.4,649.8 365.1,637.1 369.8,619.1 374.5,604.7 379.2,625.1 383.9,638.7 388.6,633.1 393.3,645.2 398,644.6 402.7,649.6 407.4,648.2 412.1,632.5 416.8,629.1 421.5,634.5 426.2,651.6 430.9,645.2 435.7,635.1 440.4,638.1 445.1,641.1 449.8,642.6 454.5,645.2 459.2,655.2 463.9,659.2 468.6,670.2 473.3,646.8 478,644.6 482.7,660.2 487.4,661.8 492.1,647.2 496.8,634.1 501.5,622.1 506.2,627.1 510.9,616.1 515.6,611.1 520.3,631.1 525,636.5 529.7,620.7 534.5,616.5 539.2,625.5 543.9,613.1 548.6,609.1 553.3,592.1 558,610.1 562.7,615.1 567.4,617.1 572.1,616.5 576.8,603.1 581.5,613.1 586.2,614.7 590.9,601.1 595.6,578.1 600.3,582.1 605,587.5 609.7,585.1 614.4,597.5 619.1,593.1 623.8,589.5 628.5,558.4 633.2,567.6 638,566.6 642.7,558 647.4,554.4 652.1,563.6 656.8,571.1 661.5,568 666.2,563 670.9,559.6 675.6,554 680.3,561 685,588.1 689.7,589.5 694.4,601.1 699.1,612.1 703.8,620.5 708.5,612.1 713.2,620.1 717.9,619.1 722.6,610.1 727.3,588.1 732,568.4 736.7,593.5 741.5,587.5 746.2,578.7 750.9,588.7 755.6,577.5 760.3,577.1 765,578.1 769.7,573.1 774.4,563 779.1,575.1 783.8,581.5 788.5,581.1 793.2,605.1 797.9,610.7 802.6,605.1 807.3,606.1 812,604.1 816.7,608.7 821.4,598.5 826.1,598.5 830.8,605.1 835.5,605.5 840.2,625.7 845,623.1 849.7,625.1 854.4,617.5 859.1,620.7 863.8,630.1 868.5,618.1 873.2,629.1 877.9,626.7 882.6,632.7 887.3,626.7 892,634.5 896.7,614.5 901.4,636.7 906.1,645.6 910.8,640.5 915.5,634.5 920.2,631.5 924.9,630.5 929.6,633.1 934.3,649.2 939,641.7 943.8,623.1 948.5,621.7 953.2,621.1 957.9,609.5 962.6,605.5 967.3,604.1 972,605.1 976.7,593.1 981.4,596.1 986.1,599.5 990.8,614.1 995.5,600.1 1000.2,592.7 1004.9,592.5 1009.6,578.1 1014.3,563.6 1019,569 1023.7,575.1 1028.4,574.7 1033.1,568 1037.8,599.1 1042.5,598.1 1047.3,604.1 1052,608.1 1056.7,587.5 1061.4,609.1 1066.1,628.1 1070.8,616.1 1075.5,617.1 1080.2,619.1 1084.9,631.5 1089.6,630.7 1094.3,644.2 1099,631.1 1103.7,609.1 1108.4,607.1 1113.1,607.1 1117.8,599.1 1122.5,599.5 1127.2,635.7 1131.9,640.1 1367,657.2"/>
<g clip-path="url(#cr)">
<polyline fill="none" stroke="#7e57c2" stroke-width="1.1" stroke-linejoin="round" points="9,627.1 12.2,623.1 16.9,625.5 21.6,630.1 26.4,642.8 31.1,633.1 35.8,630.5 40.5,637.5 45.2,642.2 49.9,646.2 54.6,646.6 59.3,649.8 64,640.5 68.7,650.2 73.4,625.1 78.1,635.7 82.8,634.1 87.5,637.7 92.2,636.5 96.9,610.7 101.6,619.1 106.3,616.1 111,607.1 115.7,595.1 120.4,572.5 125.2,574.1 129.9,580.1 134.6,581.7 139.3,568.4 144,579.1 148.7,596.1 153.4,593.1 158.1,581.7 162.8,595.1 167.5,607.5 172.2,598.1 176.9,596.5 181.6,605.1 186.3,611.5 191,602.1 195.7,585.1 200.4,578.5 205.1,577.7 209.8,558 214.5,547 219.2,546.4 223.9,545 228.7,549 233.4,558 238.1,579.1 242.8,582.1 247.5,598.5 252.2,600.5 256.9,593.5 261.6,619.5 266.3,610.5 271,614.5 275.7,610.1 280.4,626.1 285.1,623.1 289.8,608.7 294.5,609.7 299.2,621.1 303.9,615.1 308.6,613.1 313.3,622.1 318,631.1 322.7,632.5 327.4,636.1 332.2,639.7 336.9,637.5 341.6,628.1 346.3,640.5 351,635.1 355.7,644.8 360.4,649.8 365.1,637.1 369.8,619.1 374.5,604.7 379.2,625.1 383.9,638.7 388.6,633.1 393.3,645.2 398,644.6 402.7,649.6 407.4,648.2 412.1,632.5 416.8,629.1 421.5,634.5 426.2,651.6 430.9,645.2 435.7,635.1 440.4,638.1 445.1,641.1 449.8,642.6 454.5,645.2 459.2,655.2 463.9,659.2 468.6,670.2 473.3,646.8 478,644.6 482.7,660.2 487.4,661.8 492.1,647.2 496.8,634.1 501.5,622.1 506.2,627.1 510.9,616.1 515.6,611.1 520.3,631.1 525,636.5 529.7,620.7 534.5,616.5 539.2,625.5 543.9,613.1 548.6,609.1 553.3,592.1 558,610.1 562.7,615.1 567.4,617.1 572.1,616.5 576.8,603.1 581.5,613.1 586.2,614.7 590.9,601.1 595.6,578.1 600.3,582.1 605,587.5 609.7,585.1 614.4,597.5 619.1,593.1 623.8,589.5 628.5,558.4 633.2,567.6 638,566.6 642.7,558 647.4,554.4 652.1,563.6 656.8,571.1 661.5,568 666.2,563 670.9,559.6 675.6,554 680.3,561 685,588.1 689.7,589.5 694.4,601.1 699.1,612.1 703.8,620.5 708.5,612.1 713.2,620.1 717.9,619.1 722.6,610.1 727.3,588.1 732,568.4 736.7,593.5 741.5,587.5 746.2,578.7 750.9,588.7 755.6,577.5 760.3,577.1 765,578.1 769.7,573.1 774.4,563 779.1,575.1 783.8,581.5 788.5,581.1 793.2,605.1 797.9,610.7 802.6,605.1 807.3,606.1 812,604.1 816.7,608.7 821.4,598.5 826.1,598.5 830.8,605.1 835.5,605.5 840.2,625.7 845,623.1 849.7,625.1 854.4,617.5 859.1,620.7 863.8,630.1 868.5,618.1 873.2,629.1 877.9,626.7 882.6,632.7 887.3,626.7 892,634.5 896.7,614.5 901.4,636.7 906.1,645.6 910.8,640.5 915.5,634.5 920.2,631.5 924.9,630.5 929.6,633.1 934.3,649.2 939,641.7 943.8,623.1 948.5,621.7 953.2,621.1 957.9,609.5 962.6,605.5 967.3,604.1 972,605.1 976.7,593.1 981.4,596.1 986.1,599.5 990.8,614.1 995.5,600.1 1000.2,592.7 1004.9,592.5 1009.6,578.1 1014.3,563.6 1019,569 1023.7,575.1 1028.4,574.7 1033.1,568 1037.8,599.1 1042.5,598.1 1047.3,604.1 1052,608.1 1056.7,587.5 1061.4,609.1 1066.1,628.1 1070.8,616.1 1075.5,617.1 1080.2,619.1 1084.9,631.5 1089.6,630.7 1094.3,644.2 1099,631.1 1103.7,609.1 1108.4,607.1 1113.1,607.1 1117.8,599.1 1122.5,599.5 1127.2,635.7 1131.9,640.1"/>
<path fill="none" stroke="#ddce2c" stroke-width="1.1" d="M9 597.7C10.5 598.6 15.3 601.1 18 603.1C20.8 605.1 22.6 607.6 25.4 609.5C28.3 611.4 31.9 612.6 35 614.7C38.2 616.8 40.9 619.6 44.1 622.1C47.2 624.7 50.8 627.8 54.1 630.1C57.3 632.5 61.3 634.9 63.7 636.1C66.1 637.4 66.3 637.1 68.7 637.5C71.1 638 74.9 638.4 78.1 638.7C81.3 639.1 85.1 639.6 88.1 639.5C91.1 639.4 93.1 638.9 96.1 638.1C99.1 637.4 103.1 636.5 106.1 635.1C109.2 633.8 111.2 632.8 114.2 630.1C117.2 627.5 120.8 622.6 124.2 619.1C127.5 615.6 130.8 612.3 134.2 609.1C137.5 605.9 141 602.5 144.2 600.1C147.4 597.7 150.9 596.1 153.2 594.5C155.6 592.9 156.1 591.6 158.2 590.7C160.4 589.8 163.6 589.7 166.2 589.1C168.9 588.5 171.7 587.3 174.2 587.1C176.7 586.8 178.6 586.8 181.3 587.7C183.9 588.6 187.4 591.6 190.3 592.5C193.1 593.3 195.8 592.5 198.3 592.7C200.7 592.9 203 593.8 204.9 593.7C206.8 593.6 207.4 593.4 209.7 592.1C212 590.7 216.5 587.1 218.9 585.5C221.3 583.8 221.9 583.7 224.3 582.1C226.7 580.4 230.3 577 233.3 575.5C236.3 574 239.3 573.6 242.3 573.1C245.4 572.5 249.4 572.3 251.8 572.1C254.1 571.8 254.3 571 256.4 571.5C258.5 572 261.2 573.3 264.4 575.1C267.5 576.8 271.8 578.8 275.4 582.1C279 585.3 282 590.6 286 594.7C290 598.8 295.5 603.8 299.2 606.7C303 609.6 306.1 610.9 308.4 612.1C310.8 613.3 311.1 612.6 313.4 613.7C315.8 614.8 318.8 617 322.7 618.7C326.5 620.4 332 622.3 336.7 623.7C341.3 625.1 346.8 625.7 350.7 627.1C354.6 628.5 357.9 631.1 360.3 632.1C362.7 633.2 362.8 633.4 365.1 633.5C367.4 633.7 370.4 633 374.3 633.1C378.2 633.2 384.6 633.9 388.5 634.1C392.4 634.4 394.7 634.2 397.8 634.7C400.9 635.2 404 636.9 407.2 637.1C410.3 637.4 413.4 636.4 416.6 636.1C419.8 635.9 423 635.4 426.2 635.5C429.4 635.7 432.5 636.3 435.6 637.1C438.7 638 441.7 639.6 444.8 640.5C447.9 641.4 450.3 641.7 454.2 642.6C458.1 643.4 464.3 645 468.3 645.6C472.2 646.1 474.7 645 477.9 645.8C481 646.5 484.1 649.7 487.3 650.2C490.4 650.7 493.6 649.3 496.7 648.8C499.8 648.2 503 647.7 506.1 646.8C509.2 645.8 512.2 644.2 515.3 643.2C518.4 642.1 521.6 642 524.7 640.5C527.9 639 531.2 635.9 534.3 634.1C537.5 632.4 540.7 632.2 543.8 630.1C546.9 628.1 549.9 623.8 553 621.7C556.1 619.6 559.2 618.4 562.4 617.5C565.6 616.6 568.8 616.8 572 616.5C575.2 616.2 579 616 581.4 615.7C583.8 615.4 583.8 615.8 586.2 614.7C588.6 613.6 591.7 611.3 595.6 609.1C599.5 606.9 605.7 603 609.7 601.7C613.6 600.4 616.7 601.5 619.1 601.1C621.4 600.7 620.7 601.3 623.9 599.1C627 596.9 633.2 591.7 637.9 588.1C642.6 584.4 649 579.2 652.1 577.1C655.2 574.9 654.4 575.8 656.7 575.1C659.1 574.3 662.2 574.1 666.1 572.7C670.1 571.2 676.4 567.5 680.4 566.4C684.3 565.3 686.6 564.9 689.8 566C692.9 567.1 696 570.7 699.2 573.1C702.3 575.4 705.5 577.5 708.6 580.1C711.7 582.7 714.9 586.5 718 588.7C721.1 590.8 725.1 592.3 727.4 593.1C729.8 593.9 729.2 592.5 732 593.5C734.8 594.5 740.7 598.2 744.2 599.1C747.8 600 749.8 599.9 753.3 599.1C756.7 598.3 761.6 596 765.1 594.1C768.5 592.1 770.8 589.6 773.9 587.5C777 585.4 781.3 582.8 783.7 581.5C786.1 580.1 786.9 579.6 788.5 579.5C790.1 579.3 791.5 580 793.1 580.7C794.7 581.3 795.5 582.6 797.9 583.5C800.3 584.4 803.4 584.9 807.3 586.1C811.2 587.3 816.6 589 821.3 590.7C826.1 592.3 831.6 593.8 835.6 596.1C839.5 598.3 841.8 601.8 845 604.1C848.1 606.4 852.2 608.9 854.4 610.1C856.6 611.3 854.9 610.3 858 611.1C861.1 611.9 869.1 613.8 873.2 615.1C877.3 616.4 879.5 617.8 882.6 619.1C885.8 620.5 889.7 622.4 892 623.1C894.4 623.9 894.3 623.1 896.7 623.7C899 624.4 902.1 626.1 906.1 627.1C910 628.2 916.3 629.5 920.3 630.1C924.2 630.8 927.4 630.6 929.7 631.1C932 631.6 932.2 632.6 934.3 633.1C936.4 633.6 939 634.2 942.1 634.1C945.3 634.1 948.9 633.7 953.1 632.7C957.3 631.7 963.4 630 967.4 628.1C971.3 626.3 973.6 623.5 976.8 621.5C979.9 619.6 983 617.9 986.2 616.5C989.3 615.1 992.5 615 995.6 613.1C998.7 611.2 1002.7 606.9 1005 605.1C1007.3 603.3 1007.3 604.3 1009.6 602.5C1011.9 600.7 1015.9 596.3 1019 594.1C1022.2 591.9 1026.1 590.6 1028.4 589.5C1030.8 588.3 1031.7 587.5 1033.2 587.1C1034.8 586.6 1035.5 586.6 1037.9 586.7C1040.2 586.7 1044.9 587.2 1047.3 587.5C1049.6 587.7 1050.5 588.4 1052.1 588.3C1053.6 588.1 1055.1 586.7 1056.7 586.5C1058.2 586.3 1059.9 586.6 1061.5 587.1C1063.1 587.5 1063.8 588 1066.1 589.1C1068.4 590.1 1072.4 591.2 1075.5 593.5C1078.6 595.7 1082.5 600.4 1084.9 602.5C1087.3 604.6 1087.4 603.8 1089.7 606.1C1092.1 608.4 1096 614.3 1099.1 616.1C1102.3 617.9 1105.4 617 1108.6 617.1C1111.7 617.2 1115.6 616.4 1118 616.5C1120.3 616.6 1121 617 1122.6 617.5C1124.1 618 1125.8 619 1127.4 619.5C1128.9 620 1131.2 620.4 1132 620.5"/>
</g>
<text class="ax" x="1375" y="73.2" textLength="35.9" lengthAdjust="spacingAndGlyphs">1.13000</text>
<text class="ax" x="1375" y="121.6" textLength="35.9" lengthAdjust="spacingAndGlyphs">1.12000</text>
<text class="ax" x="1375" y="170" textLength="35.9" lengthAdjust="spacingAndGlyphs">1.11000</text>
<text class="ax" x="1375" y="218.4" textLength="35.9" lengthAdjust="spacingAndGlyphs">1.10000</text>
<text class="ax" x="1375" y="266.8" textLength="35.9" lengthAdjust="spacingAndGlyphs">1.09000</text>
<text class="ax" x="1375" y="315.2" textLength="35.9" lengthAdjust="spacingAndGlyphs">1.08000</text>
<text class="ax" x="1375" y="363.6" textLength="35.9" lengthAdjust="spacingAndGlyphs">1.07000</text>
<text class="ax" x="1375" y="412" textLength="35.9" lengthAdjust="spacingAndGlyphs">1.06000</text>
<text class="ax" x="1375" y="460.4" textLength="35.9" lengthAdjust="spacingAndGlyphs">1.05000</text>
<text class="ax" x="1375" y="508.8" textLength="35.9" lengthAdjust="spacingAndGlyphs">1.04000</text>
<text class="ax" clip-path="url(#cax)" x="1375" y="536.6" textLength="25.6" lengthAdjust="spacingAndGlyphs">80.00</text>
<text class="ax" clip-path="url(#cax)" x="1375" y="586.3" textLength="25.6" lengthAdjust="spacingAndGlyphs">60.00</text>
<text class="ax" clip-path="url(#cax)" x="1375" y="636.1" textLength="25.6" lengthAdjust="spacingAndGlyphs">40.00</text>
<text class="ax" clip-path="url(#cax)" x="1375" y="685.8" textLength="25.6" lengthAdjust="spacingAndGlyphs">20.00</text>
<rect x="1367" y="339.5" width="50" height="16" rx="2" fill="#ef5350"/>
<text x="1375" y="351.6" font-size="10" fill="#fff" stroke="#fff" stroke-width="0.3" textLength="35.9" lengthAdjust="spacingAndGlyphs">1.07259</text>
<text class="tm" x="73.4" y="699.9">Jun</text>
<text class="tm" x="176.9" y="699.9">Jul</text>
<text class="tm" x="275.7" y="699.9">Aug</text>
<text class="tm" x="383.9" y="699.9">Sep</text>
<text class="tm" x="482.7" y="699.9">Oct</text>
<text class="tm" x="586.2" y="699.9">Nov</text>
<text class="tm" x="689.7" y="699.9">Dec</text>
<text class="tm" x="788.5" y="699.9">2024</text>
<text class="tm" x="896.7" y="699.9">Feb</text>
<text class="tm" x="995.5" y="699.9">Mar</text>
<text class="tm" x="1094.3" y="699.9">Apr</text>
<text class="tm" x="1197.8" y="699.9">May</text>
<text class="tm" x="1306" y="699.9">Jun</text>
<text x="9" y="17.2" font-size="10.8" fill="#d1d4dc" stroke="#d1d4dc" stroke-width="0.25" textLength="328" lengthAdjust="spacingAndGlyphs">dacolmanfx published on TradingView.com, Apr 11, 2024 17:35 UTC-4</text>
<text x="15.8" y="40.7" font-size="10.5" fill="#b2b5be" textLength="122.9" lengthAdjust="spacingAndGlyphs">Euro / U.S. Dollar, 1D, ICE</text>
<text x="145.6" y="40.7" font-size="10.5" fill="#b2b5be" textLength="6.6" lengthAdjust="spacingAndGlyphs">O</text>
<text x="152.8" y="40.7" font-size="10.5" fill="#ef5350" textLength="37" lengthAdjust="spacingAndGlyphs">1.07434</text>
<text x="196.4" y="40.7" font-size="10.5" fill="#b2b5be" textLength="6.4" lengthAdjust="spacingAndGlyphs">H</text>
<text x="203.6" y="40.7" font-size="10.5" fill="#ef5350" textLength="36.6" lengthAdjust="spacingAndGlyphs">1.07566</text>
<text x="246.9" y="40.7" font-size="10.5" fill="#b2b5be" textLength="4.6" lengthAdjust="spacingAndGlyphs">L</text>
<text x="252.6" y="40.7" font-size="10.5" fill="#ef5350" textLength="36.3" lengthAdjust="spacingAndGlyphs">1.06992</text>
<text x="295.5" y="40.7" font-size="10.5" fill="#b2b5be" textLength="6.2" lengthAdjust="spacingAndGlyphs">C</text>
<text x="302.3" y="40.7" font-size="10.5" fill="#ef5350" textLength="36.3" lengthAdjust="spacingAndGlyphs">1.07259</text>
<text x="346" y="40.7" font-size="10.5" fill="#ef5350" textLength="85" lengthAdjust="spacingAndGlyphs">−0.00176 (−0.16%)</text>
<g transform="translate(9.1,716.6) scale(0.467)" fill="#d1d4dc"><path d="M14 22H7V11H0V4h14v18zM28 22h-8l7.5-18h8L28 22z"/><circle cx="20" cy="8" r="4"/></g>
<text x="29.4" y="727.6" font-size="11.2" font-weight="bold" fill="#d1d4dc" textLength="62" lengthAdjust="spacingAndGlyphs">TradingView</text>
<g transform="translate(1177,695) skewX(-14)"><text x="0" y="0" font-size="57" font-weight="900" fill="#9a9da6" fill-opacity="0.93" textLength="243" lengthAdjust="spacingAndGlyphs" style="font-family:'Noto Sans CJK SC','Liberation Sans',sans-serif">海马财经</text></g>
<g transform="translate(1193,733) skewX(-14) scale(1.28,1)"><text x="0" y="0" font-size="29" font-weight="bold" fill="#1b3a9e" stroke="#1b3a9e" stroke-width="1" letter-spacing="6.3">zzrt01.cn</text></g>
</svg></body></html>
